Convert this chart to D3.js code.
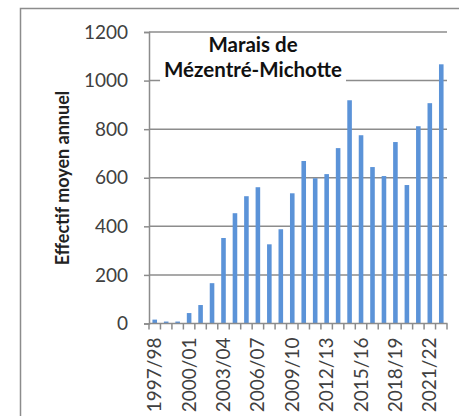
<!DOCTYPE html>
<html>
<head>
<meta charset="utf-8">
<script src="https://cdn.jsdelivr.net/npm/d3@7"></script>
<style>
  body { margin: 0; background: #fff; }
  svg { display: block; }
</style>
</head>
<body>
<div id="main"></div>
<script>
// data
var seasons = ["1997/98","1998/99","1999/00","2000/01","2001/02","2002/03","2003/04",
  "2004/05","2005/06","2006/07","2007/08","2008/09","2009/10","2010/11","2011/12",
  "2012/13","2013/14","2014/15","2015/16","2016/17","2017/18","2018/19","2019/20",
  "2020/21","2021/22","2022/23"];
var effectif = [16, 8, 8, 43, 76, 166, 352, 454, 524, 561, 326, 388, 536, 669, 598,
  615, 722, 919, 775, 644, 607, 747, 570, 812, 907, 1067];
var yTicks = [0, 200, 400, 600, 800, 1000, 1200];
var titleLines = ["Marais de", "Mézentré-Michotte"];
var yLabel = "Effectif moyen annuel";

var W = 459, H = 416;
var grid = "#8c8c8c";
var font = "Lato, 'Open Sans', sans-serif";

function transform(x, y) {
  return "translate(" + x + "," + y + ")";
}

var svg = d3.select("#main").append("svg")
  .attr("width", W).attr("height", H);

// outer frame (runs off right/bottom)
svg.append("rect")
  .attr("x", 20.5).attr("y", 8.5)
  .attr("width", W + 20).attr("height", H + 20)
  .attr("fill", "none").attr("stroke", grid).attr("stroke-width", 1.5);

var x = d3.scaleBand().domain(seasons).range([149, 447]).paddingInner(0.6).paddingOuter(0.3);
var y = d3.scaleLinear().domain([0, 1200]).range([323.5, 32]);

// gridlines
svg.append("g").selectAll("line").data(yTicks.slice(1)).enter().append("line")
  .attr("x1", 149).attr("x2", 447)
  .attr("y1", function(d) { return y(d); }).attr("y2", function(d) { return y(d); })
  .attr("stroke", grid).attr("stroke-width", 1.5);

// bars
svg.append("g").selectAll("rect").data(effectif).enter().append("rect")
  .attr("x", function(d, i) { return x(seasons[i]); })
  .attr("width", x.bandwidth())
  .attr("y", function(d) { return y(d); })
  .attr("height", function(d) { return y(0) - y(d); })
  .attr("fill", "#5b93d8");

// y axis
var yAxis = svg.append("g").attr("transform", transform(149, 0))
  .call(d3.axisLeft(y).tickValues(yTicks).tickSize(5).tickPadding(16).tickFormat(d3.format("d")));
yAxis.select(".domain").attr("stroke", grid).attr("stroke-width", 1.5);
yAxis.selectAll(".tick line").attr("stroke", grid).attr("stroke-width", 1.5);
yAxis.selectAll(".tick text").attr("font-family", font).attr("font-size", 19).attr("fill", "#404040");

// x axis: ticks between categories, labels every 3 seasons
var step = x.step();
var bounds = d3.range(seasons.length + 1).map(function(i) { return 149 + i * step; });
var xg = svg.append("g");
xg.append("line").attr("x1", 149).attr("x2", 447.5)
  .attr("y1", y(0)).attr("y2", y(0))
  .attr("stroke", grid).attr("stroke-width", 1.5);
xg.selectAll("line.tk").data(bounds).enter().append("line").attr("class", "tk")
  .attr("x1", function(d) { return d; }).attr("x2", function(d) { return d; })
  .attr("y1", y(0)).attr("y2", y(0) + 6)
  .attr("stroke", grid).attr("stroke-width", 1.5);
xg.selectAll("text").data(seasons.filter(function(d, i) { return i % 3 === 0; }))
  .enter().append("text")
  .attr("transform", function(d) { return transform(x(d) + x.bandwidth() / 2 + 6.5, y(0) + 14) + " rotate(-90)"; })
  .attr("text-anchor", "end")
  .attr("font-family", font).attr("font-size", 19).attr("fill", "#404040")
  .text(function(d) { return d; });

// y label
svg.append("text")
  .attr("transform", transform(69, 178) + " rotate(-90)")
  .attr("text-anchor", "middle")
  .attr("font-family", font).attr("font-weight", "bold").attr("font-size", 18)
  .attr("fill", "#222")
  .text(yLabel);

// title with white box over gridlines
var tg = svg.append("g");
var tbox = tg.append("rect").attr("fill", "#fff");
var tt = tg.selectAll("text").data(titleLines).enter().append("text")
  .attr("x", 253).attr("y", function(d, i) { return 52 + i * 25; })
  .attr("text-anchor", "middle")
  .attr("font-family", font).attr("font-weight", "bold").attr("font-size", 20.5)
  .attr("fill", "#111")
  .text(function(d) { return d; });
var bb = tg.node().getBBox();
tbox.attr("x", bb.x - 4).attr("y", 34).attr("width", bb.width + 8).attr("height", 50);
</script>
</body>
</html>
